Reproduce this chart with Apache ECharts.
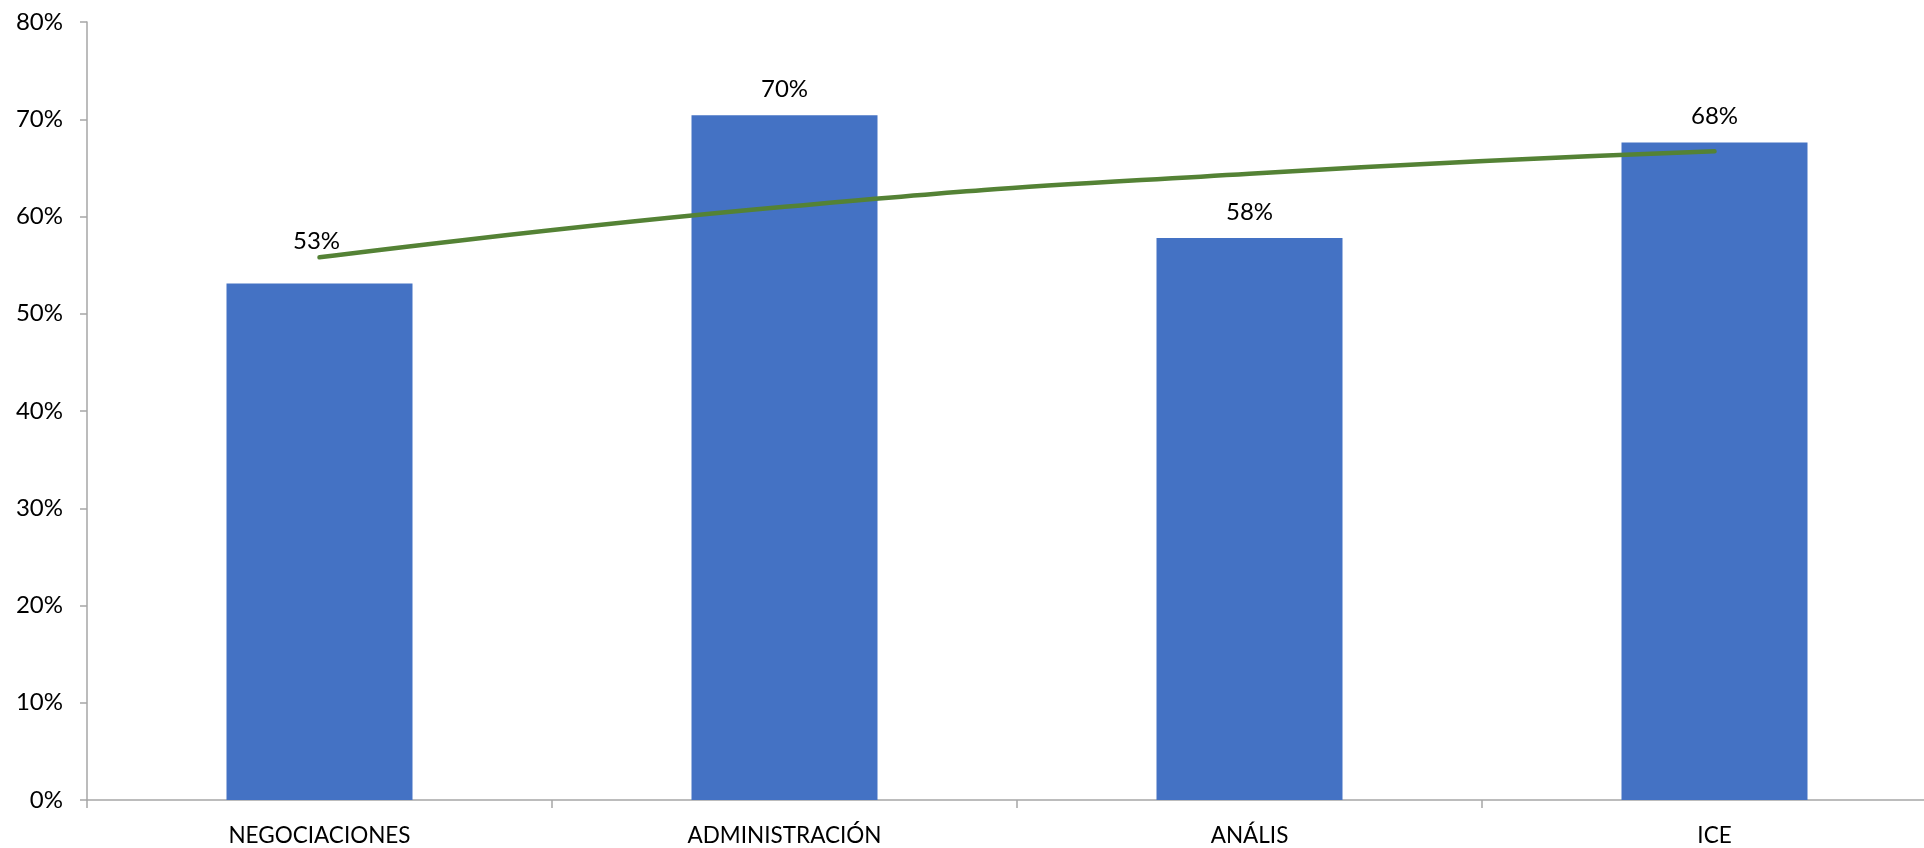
<!DOCTYPE html>
<html>
<head>
<meta charset="utf-8">
<script src="https://cdn.jsdelivr.net/npm/echarts@6/dist/echarts.min.js"></script>
<style>
html,body{margin:0;padding:0;background:#fff;overflow:hidden;}
#chart{width:1924px;height:848px;}
</style>
</head>
<body>
<div id="chart"></div>
<script>
// Data
var categories = ['NEGOCIACIONES', 'ADMINISTRACIÓN', 'ANÁLIS', 'ICE'];
var barValues = [53.1, 70.4, 57.8, 67.6];          // percent
var trendValues = [55.8, 61.0, 64.4, 66.7];        // logarithmic trend line, read at category centres
var yTicks = [0, 10, 20, 30, 40, 50, 60, 70, 80];

var FONT = 'Lato, "Open Sans", sans-serif';
var chart = echarts.init(document.getElementById('chart'), null, {renderer: 'canvas'});

var barData = barValues.map(function (v, i) {
  var item = {value: v};
  if (i === 0) { item.label = {offset: [-3, -16]}; }
  return item;
});

chart.setOption({
  animation: false,
  backgroundColor: '#ffffff',
  grid: {left: 87, width: 1860, top: 22, bottom: 48, containLabel: false, outerBoundsMode: 'none'},
  xAxis: {
    type: 'category',
    data: categories,
    boundaryGap: true,
    axisLine: {show: true, lineStyle: {color: '#a6a6a6', width: 1.5}},
    axisTick: {show: true, inside: false, length: 8, alignWithLabel: false, lineStyle: {color: '#a6a6a6', width: 1.5}},
    axisLabel: {color: '#000000', fontFamily: FONT, fontSize: 22.5, margin: 24},
    splitLine: {show: false}
  },
  yAxis: {
    type: 'value',
    min: yTicks[0],
    max: yTicks[yTicks.length - 1],
    interval: 10,
    axisLine: {show: true, lineStyle: {color: '#a6a6a6', width: 1.5}},
    axisTick: {show: true, length: 7, lineStyle: {color: '#a6a6a6', width: 1.5}},
    axisLabel: {color: '#000000', fontFamily: FONT, fontSize: 24, margin: 24,
      formatter: function (v) { return v + '%'; }},
    splitLine: {show: false}
  },
  series: [
    {
      type: 'bar',
      data: barData,
      barWidth: '40%',
      itemStyle: {color: '#4472C4'},
      label: {
        show: true,
        position: 'top',
        distance: 14,
        color: '#000000',
        fontFamily: FONT,
        fontSize: 24,
        formatter: function (p) { return Math.round(p.value) + '%'; }
      },
      z: 2
    },
    {
      type: 'line',
      data: trendValues,
      smooth: 0.5,
      symbol: 'none',
      lineStyle: {color: '#548235', width: 4.5, cap: 'round'},
      z: 3
    }
  ]
});
</script>
</body>
</html>
